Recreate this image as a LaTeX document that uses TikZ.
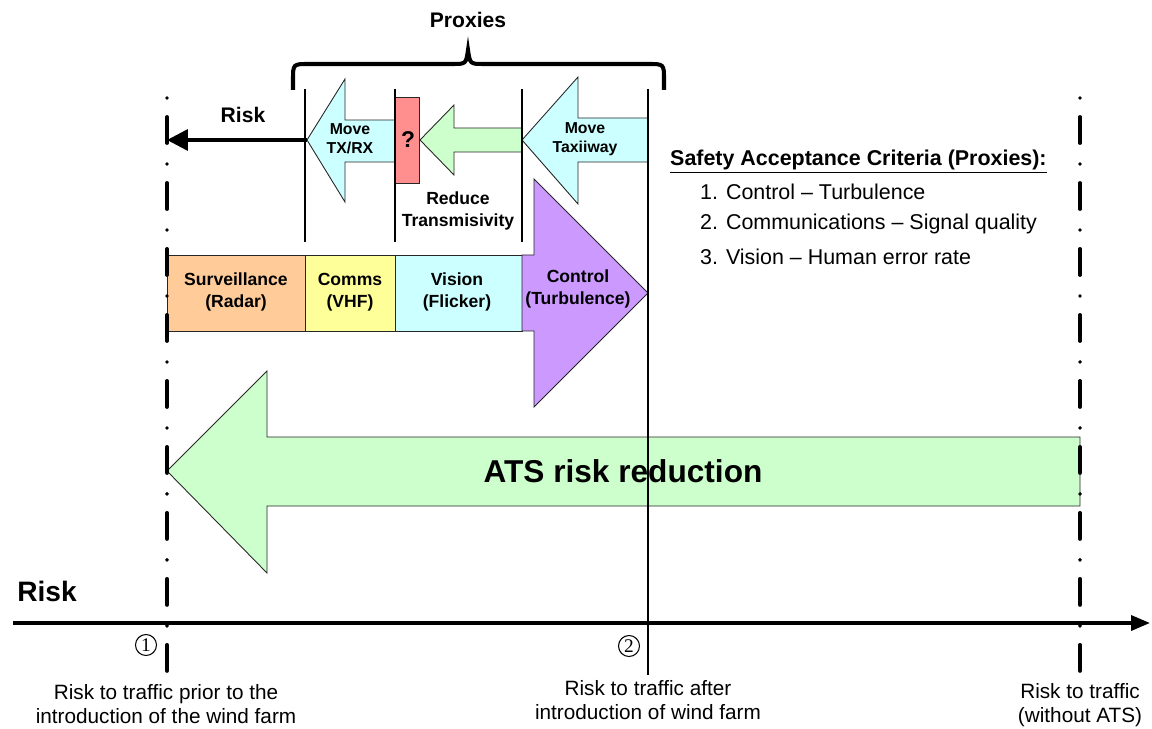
\documentclass[tikz,border=0pt]{standalone}
\usepackage{fontspec}
\setmainfont{Liberation Sans}
\newfontfamily\circfont{Liberation Serif}
\usetikzlibrary{arrows.meta}
\definecolor{radarfill}{HTML}{FFCC99}
\definecolor{vhffill}{HTML}{FFFF99}
\definecolor{cyanfill}{HTML}{CCFFFF}
\definecolor{turbfill}{HTML}{CC99FF}
\definecolor{greenfill}{HTML}{CCFFCC}
\definecolor{queryfill}{HTML}{FF8F8F}
\tikzset{
        block/.style={draw=black!85, line width=0.5pt},
        limitline/.style={line width=2.2pt, line cap=round, dash pattern=on 0cm off 0.38cm on 0.52cm off 0.42cm},
        thinline/.style={line width=0.6pt},
        boxlbl/.style={font=\bfseries\fontsize{10}{12.5}\selectfont, align=center},
        movelbl/.style={font=\bfseries\fontsize{9}{10.8}\selectfont, align=center},
        critlbl/.style={font=\fontsize{12.2}{14}\selectfont, anchor=west},
        footlbl/.style={font=\fontsize{11.8}{13.6}\selectfont, align=center},
        circlbl/.style={draw, circle, line width=0.6pt, inner sep=0pt, minimum size=0.42cm, font=\circfont\fontsize{11}{11}\selectfont}
}
\begin{document}
\begin{tikzpicture}[x=0.02cm, y=-0.02cm]
        \useasboundingbox (0,0) rectangle (1152,729);
        \draw[block, fill=greenfill] (1080,437) -- (267,437) -- (267,371) -- (167,471) -- (267,573) -- (267,506) -- (1080,506) -- cycle;
        \draw[block, fill=radarfill] (167,255) rectangle (305,331);
        \draw[block, fill=vhffill] (305,255) rectangle (395,331);
        \draw[block, fill=cyanfill] (395,255) rectangle (522,331);
        \draw[block, fill=turbfill] (522,255) -- (534,255) -- (534,179) -- (648,293) -- (534,407) -- (534,331) -- (522,331) -- cycle;
        \draw[block, fill=cyanfill] (395,120) -- (345,120) -- (345,79) -- (307,140) -- (345,202) -- (345,162) -- (395,162) -- cycle;
        \draw[block, fill=queryfill] (395,97) rectangle (419,183);
        \draw[block, fill=greenfill] (522,128) -- (454,128) -- (454,105) -- (420,140) -- (454,175) -- (454,152) -- (522,152) -- cycle;
        \draw[block, fill=cyanfill] (648,118) -- (578,118) -- (578,77) -- (522,140) -- (578,204) -- (578,162) -- (648,162) -- cycle;
        \draw[thinline] (305,89) -- (305,242);
        \draw[thinline] (395,89) -- (395,242);
        \draw[thinline] (522,89) -- (522,242);
        \draw[line width=0.8pt] (648,89) -- (648,675);
        \draw[limitline] (167,98) -- (167,677);
        \draw[limitline] (1080,98) -- (1080,677);
        \draw[line width=2.3pt] (293,90) -- (293,80) .. controls (293,64) .. (309,64) -- (452,64)
                .. controls (466,64) .. (468,50) .. controls (470,64) .. (484,64) -- (648,64)
                .. controls (664,64) .. (664,80) -- (664,90);
        \coordinate (txtip) at (307,140);
        \coordinate (riskend) at (167,140);
        \coordinate (axisL) at (13,623);
        \coordinate (axisR) at (1150,623);
        \path
            (txtip) edge [line width=2pt, -{Triangle[length=0.42cm, width=0.42cm]}] (riskend)
            (axisL) edge [line width=2pt, -{Triangle[length=0.38cm, width=0.3cm]}] (axisR);
        \node[font=\bfseries\fontsize{12}{14}\selectfont](proxies) at (468,20) {Proxies};
        \node[font=\bfseries\fontsize{12}{14}\selectfont](risktop) at (243,115) {Risk};
        \node[movelbl](movetx) at (350,139) {Move\\TX/RX};
        \node[font=\bfseries\fontsize{13}{14}\selectfont](query) at (408,140) {?};
        \node[movelbl](movetaxi) at (585,139) {Move\\Taxiiway};
        \node[boxlbl](reduce) at (458,211) {Reduce\\Transmisivity};
        \node[boxlbl](radar) at (236,292) {Surveillance\\(Radar)};
        \node[boxlbl](comms) at (350,292) {Comms\\(VHF)};
        \node[boxlbl](vision) at (457,292) {Vision\\(Flicker)};
        \node[boxlbl](control) at (578,289) {Control\\(Turbulence)};
        \node[critlbl, font=\bfseries\fontsize{12.2}{14}\selectfont](crit) at (664,162) {\underline{Safety Acceptance Criteria (Proxies):}};
        \node[critlbl](crit1) at (694,192) {1. Control – Turbulence};
        \node[critlbl](crit2) at (694,224) {2. Communications – Signal quality};
        \node[critlbl](crit3) at (694,257) {3. Vision – Human error rate};
        \node[font=\bfseries\fontsize{18}{20}\selectfont](ats) at (623,471) {ATS risk reduction};
        \node[font=\bfseries\fontsize{16}{18}\selectfont](axisrisk) at (47,591) {Risk};
        \node[circlbl](one) at (146,645) {1};
        \node[circlbl](two) at (629,646) {2};
        \node[footlbl](prior) at (166,704) {Risk to traffic prior to the\\introduction of the wind farm};
        \node[footlbl](after) at (648,700) {Risk to traffic after\\introduction of wind farm};
        \node[footlbl](noats) at (1080,705) {Risk to traffic\\(without ATS)};
\end{tikzpicture}
\end{document}
